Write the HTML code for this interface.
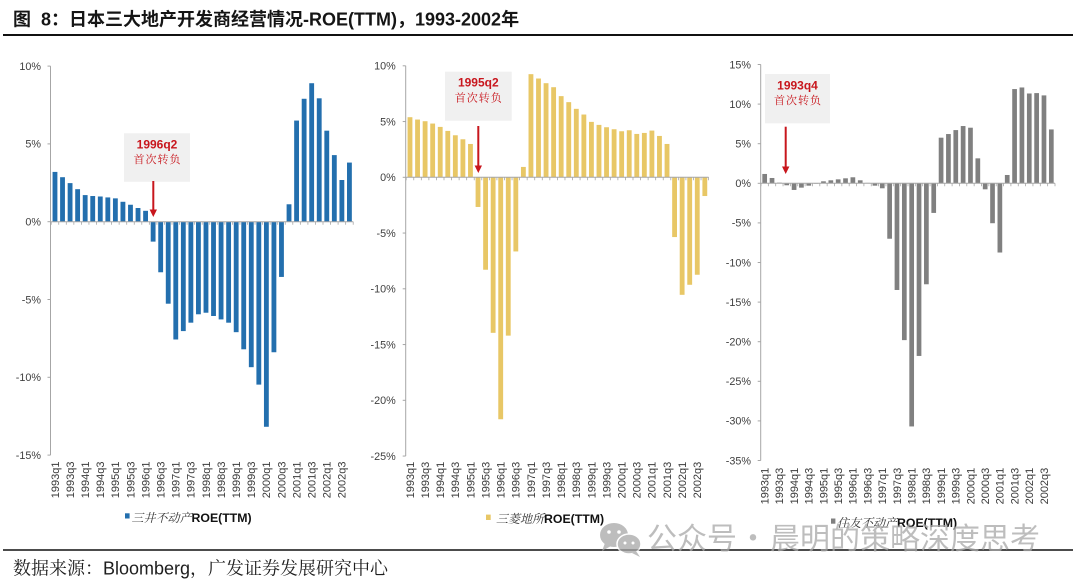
<!DOCTYPE html>
<html>
<head>
<meta charset="utf-8">
<style>
html,body{margin:0;padding:0;background:#fff;}
svg{display:block;}
.yl{font-family:"Liberation Sans",sans-serif;font-size:10.8px;fill:#404040;text-anchor:end;}
.xl{font-family:"Liberation Sans",sans-serif;font-size:11px;fill:#3a3a3a;text-anchor:end;}
.ann1{font-family:"Liberation Sans",sans-serif;font-weight:bold;font-size:12px;fill:#c8161d;text-anchor:middle;}
.ann2{font-family:"Noto Serif CJK SC","Noto Sans CJK SC",serif;font-size:11px;fill:#c8161d;text-anchor:middle;letter-spacing:1px;}
.lgc{font-family:"Noto Serif CJK SC","Noto Sans CJK SC",serif;font-size:12px;fill:#333;font-style:italic;}
.lge{font-family:"Liberation Sans",sans-serif;font-weight:bold;font-size:12.3px;fill:#111;}
</style>
</head>
<body>
<svg width="1080" height="582" viewBox="0 0 1080 582" xmlns="http://www.w3.org/2000/svg">
<rect width="1080" height="582" fill="#fff"/>

<!-- Title -->
<text x="13" y="19" dy="0.36em" style="white-space:pre" font-family="'Liberation Sans','Noto Sans CJK SC',sans-serif" font-weight="bold" font-size="18" fill="#151515">图  8：日本三大地产开发商经营情况-ROE(TTM)，1993-2002年</text>
<line x1="3" y1="35" x2="1073" y2="35" stroke="#111" stroke-width="2"/>

<!-- ================= Chart 1 ================= -->
<g stroke="#a6a6a6" stroke-width="1" fill="none">
  <line x1="50.5" y1="66.1" x2="50.5" y2="455.1"/>
  <line x1="47.5" y1="66.1" x2="50.5" y2="66.1"/>
  <line x1="47.5" y1="143.9" x2="50.5" y2="143.9"/>
  <line x1="47.5" y1="221.7" x2="50.5" y2="221.7"/>
  <line x1="47.5" y1="299.5" x2="50.5" y2="299.5"/>
  <line x1="47.5" y1="377.3" x2="50.5" y2="377.3"/>
  <line x1="47.5" y1="455.1" x2="50.5" y2="455.1"/>
</g>
<g class="yl">
  <text x="41" y="66.1" dy="0.35em">10%</text>
  <text x="41" y="143.9" dy="0.35em">5%</text>
  <text x="41" y="221.7" dy="0.35em">0%</text>
  <text x="41" y="299.5" dy="0.35em">-5%</text>
  <text x="41" y="377.3" dy="0.35em">-10%</text>
  <text x="41" y="455.1" dy="0.35em">-15%</text>
</g>
<g fill="#236fae" transform="translate(51.2,221.7) scale(7.55,-15.56)">
<rect x="0.18" y="0" width="0.64" height="3.2"/>
<rect x="1.18" y="0" width="0.64" height="2.86"/>
<rect x="2.18" y="0" width="0.64" height="2.48"/>
<rect x="3.18" y="0" width="0.64" height="2.09"/>
<rect x="4.18" y="0" width="0.64" height="1.71"/>
<rect x="5.18" y="0" width="0.64" height="1.65"/>
<rect x="6.18" y="0" width="0.64" height="1.62"/>
<rect x="7.18" y="0" width="0.64" height="1.56"/>
<rect x="8.18" y="0" width="0.64" height="1.5"/>
<rect x="9.18" y="0" width="0.64" height="1.28"/>
<rect x="10.18" y="0" width="0.64" height="1.09"/>
<rect x="11.18" y="0" width="0.64" height="0.88"/>
<rect x="12.18" y="0" width="0.64" height="0.7"/>
<rect x="13.18" y="-1.28" width="0.64" height="1.28"/>
<rect x="14.18" y="-3.25" width="0.64" height="3.25"/>
<rect x="15.18" y="-5.27" width="0.64" height="5.27"/>
<rect x="16.18" y="-7.57" width="0.64" height="7.57"/>
<rect x="17.18" y="-7.03" width="0.64" height="7.03"/>
<rect x="18.18" y="-6.49" width="0.64" height="6.49"/>
<rect x="19.18" y="-5.95" width="0.64" height="5.95"/>
<rect x="20.18" y="-5.85" width="0.64" height="5.85"/>
<rect x="21.18" y="-6.06" width="0.64" height="6.06"/>
<rect x="22.18" y="-6.28" width="0.64" height="6.28"/>
<rect x="23.18" y="-6.49" width="0.64" height="6.49"/>
<rect x="24.18" y="-7.1" width="0.64" height="7.1"/>
<rect x="25.18" y="-8.2" width="0.64" height="8.2"/>
<rect x="26.18" y="-9.35" width="0.64" height="9.35"/>
<rect x="27.18" y="-10.47" width="0.64" height="10.47"/>
<rect x="28.18" y="-13.18" width="0.64" height="13.18"/>
<rect x="29.18" y="-8.39" width="0.64" height="8.39"/>
<rect x="30.18" y="-3.55" width="0.64" height="3.55"/>
<rect x="31.18" y="0" width="0.64" height="1.12"/>
<rect x="32.18" y="0" width="0.64" height="6.5"/>
<rect x="33.18" y="0" width="0.64" height="7.9"/>
<rect x="34.18" y="0" width="0.64" height="8.9"/>
<rect x="35.18" y="0" width="0.64" height="7.93"/>
<rect x="36.18" y="0" width="0.64" height="5.85"/>
<rect x="37.18" y="0" width="0.64" height="4.28"/>
<rect x="38.18" y="0" width="0.64" height="2.68"/>
<rect x="39.18" y="0" width="0.64" height="3.8"/>
</g>
<line x1="51.2" y1="221.7" x2="353.2" y2="221.7" stroke="#a6a6a6" stroke-width="1"/>
<line x1="50.8" y1="223.2" x2="353.6" y2="223.2" stroke="#a6a6a6" stroke-width="3" stroke-dasharray="0.8 6.75"/>
<g class="xl" transform="translate(54.98,461.5) rotate(-90)">
  <text x="0" y="0" dy="0.35em">1993q1</text>
  <text x="0" y="15.1" dy="0.35em">1993q3</text>
  <text x="0" y="30.2" dy="0.35em">1994q1</text>
  <text x="0" y="45.3" dy="0.35em">1994q3</text>
  <text x="0" y="60.4" dy="0.35em">1995q1</text>
  <text x="0" y="75.5" dy="0.35em">1995q3</text>
  <text x="0" y="90.6" dy="0.35em">1996q1</text>
  <text x="0" y="105.7" dy="0.35em">1996q3</text>
  <text x="0" y="120.8" dy="0.35em">1997q1</text>
  <text x="0" y="135.9" dy="0.35em">1997q3</text>
  <text x="0" y="151" dy="0.35em">1998q1</text>
  <text x="0" y="166.1" dy="0.35em">1998q3</text>
  <text x="0" y="181.2" dy="0.35em">1999q1</text>
  <text x="0" y="196.3" dy="0.35em">1999q3</text>
  <text x="0" y="211.4" dy="0.35em">2000q1</text>
  <text x="0" y="226.5" dy="0.35em">2000q3</text>
  <text x="0" y="241.6" dy="0.35em">2001q1</text>
  <text x="0" y="256.7" dy="0.35em">2001q3</text>
  <text x="0" y="271.8" dy="0.35em">2002q1</text>
  <text x="0" y="286.9" dy="0.35em">2002q3</text>
</g>
<!-- annotation 1 -->
<rect x="124" y="133.3" width="66" height="48.5" fill="#f0f0f0"/>
<text class="ann1" x="157" y="144.3" dy="0.36em">1996q2</text>
<text class="ann2" x="157.5" y="159" dy="0.36em">首次转负</text>
<line x1="153.3" y1="181" x2="153.3" y2="211" stroke="#c8161d" stroke-width="2"/>
<polygon points="149.6,209.5 157,209.5 153.3,217" fill="#c8161d"/>
<!-- legend 1 -->
<rect x="125" y="513.3" width="4.6" height="5.2" fill="#236fae"/>
<text x="131.5" y="516" dy="0.36em"><tspan class="lgc">三井不动产</tspan><tspan class="lge">ROE(TTM)</tspan></text>

<!-- ================= Chart 2 ================= -->
<g stroke="#a6a6a6" stroke-width="1" fill="none">
  <line x1="405.7" y1="65.8" x2="405.7" y2="456.05"/>
  <line x1="402.7" y1="65.8" x2="405.7" y2="65.8"/>
  <line x1="402.7" y1="121.55" x2="405.7" y2="121.55"/>
  <line x1="402.7" y1="177.3" x2="405.7" y2="177.3"/>
  <line x1="402.7" y1="233.05" x2="405.7" y2="233.05"/>
  <line x1="402.7" y1="288.8" x2="405.7" y2="288.8"/>
  <line x1="402.7" y1="344.55" x2="405.7" y2="344.55"/>
  <line x1="402.7" y1="400.3" x2="405.7" y2="400.3"/>
  <line x1="402.7" y1="456.05" x2="405.7" y2="456.05"/>
</g>
<g class="yl">
  <text x="395.7" y="65.8" dy="0.35em">10%</text>
  <text x="395.7" y="121.55" dy="0.35em">5%</text>
  <text x="395.7" y="177.3" dy="0.35em">0%</text>
  <text x="395.7" y="233.05" dy="0.35em">-5%</text>
  <text x="395.7" y="288.8" dy="0.35em">-10%</text>
  <text x="395.7" y="344.55" dy="0.35em">-15%</text>
  <text x="395.7" y="400.3" dy="0.35em">-20%</text>
  <text x="395.7" y="456.05" dy="0.35em">-25%</text>
</g>
<g fill="#e8c766" transform="translate(406.2,177.3) scale(7.56,-11.15)">
<rect x="0.18" y="0" width="0.64" height="5.39"/>
<rect x="1.18" y="0" width="0.64" height="5.18"/>
<rect x="2.18" y="0" width="0.64" height="5.03"/>
<rect x="3.18" y="0" width="0.64" height="4.82"/>
<rect x="4.18" y="0" width="0.64" height="4.52"/>
<rect x="5.18" y="0" width="0.64" height="4.16"/>
<rect x="6.18" y="0" width="0.64" height="3.77"/>
<rect x="7.18" y="0" width="0.64" height="3.41"/>
<rect x="8.18" y="0" width="0.64" height="2.99"/>
<rect x="9.18" y="-2.66" width="0.64" height="2.66"/>
<rect x="10.18" y="-8.29" width="0.64" height="8.29"/>
<rect x="11.18" y="-13.95" width="0.64" height="13.95"/>
<rect x="12.18" y="-21.7" width="0.64" height="21.7"/>
<rect x="13.18" y="-14.2" width="0.64" height="14.2"/>
<rect x="14.18" y="-6.65" width="0.64" height="6.65"/>
<rect x="15.18" y="0" width="0.64" height="0.93"/>
<rect x="16.18" y="0" width="0.64" height="9.25"/>
<rect x="17.18" y="0" width="0.64" height="8.86"/>
<rect x="18.18" y="0" width="0.64" height="8.44"/>
<rect x="19.18" y="0" width="0.64" height="8.08"/>
<rect x="20.18" y="0" width="0.64" height="7.28"/>
<rect x="21.18" y="0" width="0.64" height="6.74"/>
<rect x="22.18" y="0" width="0.64" height="6.14"/>
<rect x="23.18" y="0" width="0.64" height="5.63"/>
<rect x="24.18" y="0" width="0.64" height="4.97"/>
<rect x="25.18" y="0" width="0.64" height="4.7"/>
<rect x="26.18" y="0" width="0.64" height="4.49"/>
<rect x="27.18" y="0" width="0.64" height="4.31"/>
<rect x="28.18" y="0" width="0.64" height="4.13"/>
<rect x="29.18" y="0" width="0.64" height="4.22"/>
<rect x="30.18" y="0" width="0.64" height="3.89"/>
<rect x="31.18" y="0" width="0.64" height="3.98"/>
<rect x="32.18" y="0" width="0.64" height="4.19"/>
<rect x="33.18" y="0" width="0.64" height="3.71"/>
<rect x="34.18" y="0" width="0.64" height="2.99"/>
<rect x="35.18" y="-5.36" width="0.64" height="5.36"/>
<rect x="36.18" y="-10.54" width="0.64" height="10.54"/>
<rect x="37.18" y="-9.64" width="0.64" height="9.64"/>
<rect x="38.18" y="-8.74" width="0.64" height="8.74"/>
<rect x="39.18" y="-1.68" width="0.64" height="1.68"/>
</g>
<line x1="406.2" y1="177.3" x2="708.6" y2="177.3" stroke="#a6a6a6" stroke-width="1"/>
<line x1="405.8" y1="178.8" x2="709" y2="178.8" stroke="#a6a6a6" stroke-width="3" stroke-dasharray="0.8 6.76"/>
<g class="xl" transform="translate(409.98,461.7) rotate(-90)">
  <text x="0" y="0" dy="0.35em">1993q1</text>
  <text x="0" y="15.12" dy="0.35em">1993q3</text>
  <text x="0" y="30.24" dy="0.35em">1994q1</text>
  <text x="0" y="45.36" dy="0.35em">1994q3</text>
  <text x="0" y="60.48" dy="0.35em">1995q1</text>
  <text x="0" y="75.6" dy="0.35em">1995q3</text>
  <text x="0" y="90.72" dy="0.35em">1996q1</text>
  <text x="0" y="105.84" dy="0.35em">1996q3</text>
  <text x="0" y="120.96" dy="0.35em">1997q1</text>
  <text x="0" y="136.08" dy="0.35em">1997q3</text>
  <text x="0" y="151.2" dy="0.35em">1998q1</text>
  <text x="0" y="166.32" dy="0.35em">1998q3</text>
  <text x="0" y="181.44" dy="0.35em">1999q1</text>
  <text x="0" y="196.56" dy="0.35em">1999q3</text>
  <text x="0" y="211.68" dy="0.35em">2000q1</text>
  <text x="0" y="226.8" dy="0.35em">2000q3</text>
  <text x="0" y="241.92" dy="0.35em">2001q1</text>
  <text x="0" y="257.04" dy="0.35em">2001q3</text>
  <text x="0" y="272.16" dy="0.35em">2002q1</text>
  <text x="0" y="287.28" dy="0.35em">2002q3</text>
</g>
<!-- annotation 2 -->
<rect x="445" y="71.7" width="66.7" height="49" fill="#f0f0f0"/>
<text class="ann1" x="478.3" y="82.3" dy="0.36em">1995q2</text>
<text class="ann2" x="478.8" y="97.3" dy="0.36em">首次转负</text>
<line x1="478.3" y1="126" x2="478.3" y2="167" stroke="#c8161d" stroke-width="2"/>
<polygon points="474.6,165.5 482,165.5 478.3,173" fill="#c8161d"/>
<!-- legend 2 -->
<rect x="486" y="514.6" width="4.7" height="5.4" fill="#e8c766"/>
<text x="496" y="517.3" dy="0.36em"><tspan class="lgc">三菱地所</tspan><tspan class="lge">ROE(TTM)</tspan></text>

<!-- ================= Chart 3 ================= -->
<g stroke="#a6a6a6" stroke-width="1" fill="none">
  <line x1="760.7" y1="64.5" x2="760.7" y2="460.5"/>
  <line x1="757.7" y1="64.5" x2="760.7" y2="64.5"/>
  <line x1="757.7" y1="104.1" x2="760.7" y2="104.1"/>
  <line x1="757.7" y1="143.7" x2="760.7" y2="143.7"/>
  <line x1="757.7" y1="183.3" x2="760.7" y2="183.3"/>
  <line x1="757.7" y1="222.9" x2="760.7" y2="222.9"/>
  <line x1="757.7" y1="262.5" x2="760.7" y2="262.5"/>
  <line x1="757.7" y1="302.1" x2="760.7" y2="302.1"/>
  <line x1="757.7" y1="341.7" x2="760.7" y2="341.7"/>
  <line x1="757.7" y1="381.3" x2="760.7" y2="381.3"/>
  <line x1="757.7" y1="420.9" x2="760.7" y2="420.9"/>
  <line x1="757.7" y1="460.5" x2="760.7" y2="460.5"/>
</g>
<g class="yl">
  <text x="751" y="64.5" dy="0.35em">15%</text>
  <text x="751" y="104.1" dy="0.35em">10%</text>
  <text x="751" y="143.7" dy="0.35em">5%</text>
  <text x="751" y="183.3" dy="0.35em">0%</text>
  <text x="751" y="222.9" dy="0.35em">-5%</text>
  <text x="751" y="262.5" dy="0.35em">-10%</text>
  <text x="751" y="302.1" dy="0.35em">-15%</text>
  <text x="751" y="341.7" dy="0.35em">-20%</text>
  <text x="751" y="381.3" dy="0.35em">-25%</text>
  <text x="751" y="420.9" dy="0.35em">-30%</text>
  <text x="751" y="460.5" dy="0.35em">-35%</text>
</g>
<g fill="#808080" transform="translate(761,183.3) scale(7.35,-7.92)">
<rect x="0.18" y="0" width="0.64" height="1.18"/>
<rect x="1.18" y="0" width="0.64" height="0.67"/>
<rect x="2.18" y="0" width="0.64" height="0.08"/>
<rect x="3.18" y="-0.25" width="0.64" height="0.25"/>
<rect x="4.18" y="-0.84" width="0.64" height="0.84"/>
<rect x="5.18" y="-0.55" width="0.64" height="0.55"/>
<rect x="6.18" y="-0.3" width="0.64" height="0.3"/>
<rect x="7.18" y="-0.05" width="0.64" height="0.05"/>
<rect x="8.18" y="0" width="0.64" height="0.25"/>
<rect x="9.18" y="0" width="0.64" height="0.38"/>
<rect x="10.18" y="0" width="0.64" height="0.5"/>
<rect x="11.18" y="0" width="0.64" height="0.63"/>
<rect x="12.18" y="0" width="0.64" height="0.76"/>
<rect x="13.18" y="0" width="0.64" height="0.38"/>
<rect x="14.18" y="0" width="0.64" height="0.05"/>
<rect x="15.18" y="-0.3" width="0.64" height="0.3"/>
<rect x="16.18" y="-0.63" width="0.64" height="0.63"/>
<rect x="17.18" y="-7.0" width="0.64" height="7.0"/>
<rect x="18.18" y="-13.47" width="0.64" height="13.47"/>
<rect x="19.18" y="-19.8" width="0.64" height="19.8"/>
<rect x="20.18" y="-30.7" width="0.64" height="30.7"/>
<rect x="21.18" y="-21.8" width="0.64" height="21.8"/>
<rect x="22.18" y="-12.75" width="0.64" height="12.75"/>
<rect x="23.18" y="-3.74" width="0.64" height="3.74"/>
<rect x="24.18" y="0" width="0.64" height="5.76"/>
<rect x="25.18" y="0" width="0.64" height="6.22"/>
<rect x="26.18" y="0" width="0.64" height="6.72"/>
<rect x="27.18" y="0" width="0.64" height="7.23"/>
<rect x="28.18" y="0" width="0.64" height="7.02"/>
<rect x="29.18" y="0" width="0.64" height="3.15"/>
<rect x="30.18" y="-0.76" width="0.64" height="0.76"/>
<rect x="31.18" y="-5.04" width="0.64" height="5.04"/>
<rect x="32.18" y="-8.74" width="0.64" height="8.74"/>
<rect x="33.18" y="0" width="0.64" height="1.05"/>
<rect x="34.18" y="0" width="0.64" height="11.9"/>
<rect x="35.18" y="0" width="0.64" height="12.1"/>
<rect x="36.18" y="0" width="0.64" height="11.34"/>
<rect x="37.18" y="0" width="0.64" height="11.39"/>
<rect x="38.18" y="0" width="0.64" height="11.1"/>
<rect x="39.18" y="0" width="0.64" height="6.8"/>
</g>
<line x1="761" y1="183.3" x2="1055" y2="183.3" stroke="#a6a6a6" stroke-width="1"/>
<line x1="760.6" y1="184.8" x2="1055.4" y2="184.8" stroke="#a6a6a6" stroke-width="3" stroke-dasharray="0.8 6.55"/>
<g class="xl" transform="translate(764.68,467.7) rotate(-90)">
  <text x="0" y="0" dy="0.35em">1993q1</text>
  <text x="0" y="14.7" dy="0.35em">1993q3</text>
  <text x="0" y="29.4" dy="0.35em">1994q1</text>
  <text x="0" y="44.1" dy="0.35em">1994q3</text>
  <text x="0" y="58.8" dy="0.35em">1995q1</text>
  <text x="0" y="73.5" dy="0.35em">1995q3</text>
  <text x="0" y="88.2" dy="0.35em">1996q1</text>
  <text x="0" y="102.9" dy="0.35em">1996q3</text>
  <text x="0" y="117.6" dy="0.35em">1997q1</text>
  <text x="0" y="132.3" dy="0.35em">1997q3</text>
  <text x="0" y="147" dy="0.35em">1998q1</text>
  <text x="0" y="161.7" dy="0.35em">1998q3</text>
  <text x="0" y="176.4" dy="0.35em">1999q1</text>
  <text x="0" y="191.1" dy="0.35em">1999q3</text>
  <text x="0" y="205.8" dy="0.35em">2000q1</text>
  <text x="0" y="220.5" dy="0.35em">2000q3</text>
  <text x="0" y="235.2" dy="0.35em">2001q1</text>
  <text x="0" y="249.9" dy="0.35em">2001q3</text>
  <text x="0" y="264.6" dy="0.35em">2002q1</text>
  <text x="0" y="279.3" dy="0.35em">2002q3</text>
</g>
<!-- annotation 3 -->
<rect x="765" y="74" width="65" height="49.3" fill="#f0f0f0"/>
<text class="ann1" x="797.5" y="85" dy="0.36em">1993q4</text>
<text class="ann2" x="798" y="100" dy="0.36em">首次转负</text>
<line x1="785.7" y1="126.7" x2="785.7" y2="168" stroke="#c8161d" stroke-width="2"/>
<polygon points="782,166.5 789.4,166.5 785.7,174" fill="#c8161d"/>
<!-- legend 3 -->
<rect x="831" y="518.5" width="4.4" height="5.2" fill="#808080"/>
<text x="837" y="521" dy="0.36em"><tspan class="lgc">住友不动产</tspan><tspan class="lge">ROE(TTM)</tspan></text>

<!-- Footer -->
<line x1="3" y1="550" x2="1073" y2="550" stroke="#111" stroke-width="1.5"/>
<text x="13" y="568" dy="0.36em" font-family="'Liberation Sans','Noto Serif CJK SC',serif" font-size="18" fill="#1e1e1e">数据来源：Bloomberg，广发证券发展研究中心</text>

<!-- Watermark -->
<g opacity="0.75">
  <ellipse cx="614" cy="535" rx="14" ry="12" fill="#a8a8a8"/>
  <polygon points="605,543 602,551 611,546" fill="#a8a8a8"/>
  <ellipse cx="629" cy="544" rx="12" ry="10" fill="#a8a8a8" stroke="#fff" stroke-width="1.5"/>
  <polygon points="636,551 640,557 632,553" fill="#a8a8a8"/>
  <circle cx="609" cy="532" r="1.8" fill="#fff"/>
  <circle cx="619" cy="532" r="1.8" fill="#fff"/>
  <circle cx="625" cy="543" r="1.5" fill="#fff"/>
  <circle cx="633" cy="543" r="1.5" fill="#fff"/>
  <g font-family="'Noto Sans CJK SC',sans-serif" font-size="30" fill="#a8a8a8">
    <text x="647" y="538" dy="0.36em">公众号</text>
    <text x="753" y="538" dy="0.36em" text-anchor="middle">·</text>
    <text x="770" y="538" dy="0.36em">晨明的策略深度思考</text>
  </g>
</g>
</svg>
</body>
</html>
